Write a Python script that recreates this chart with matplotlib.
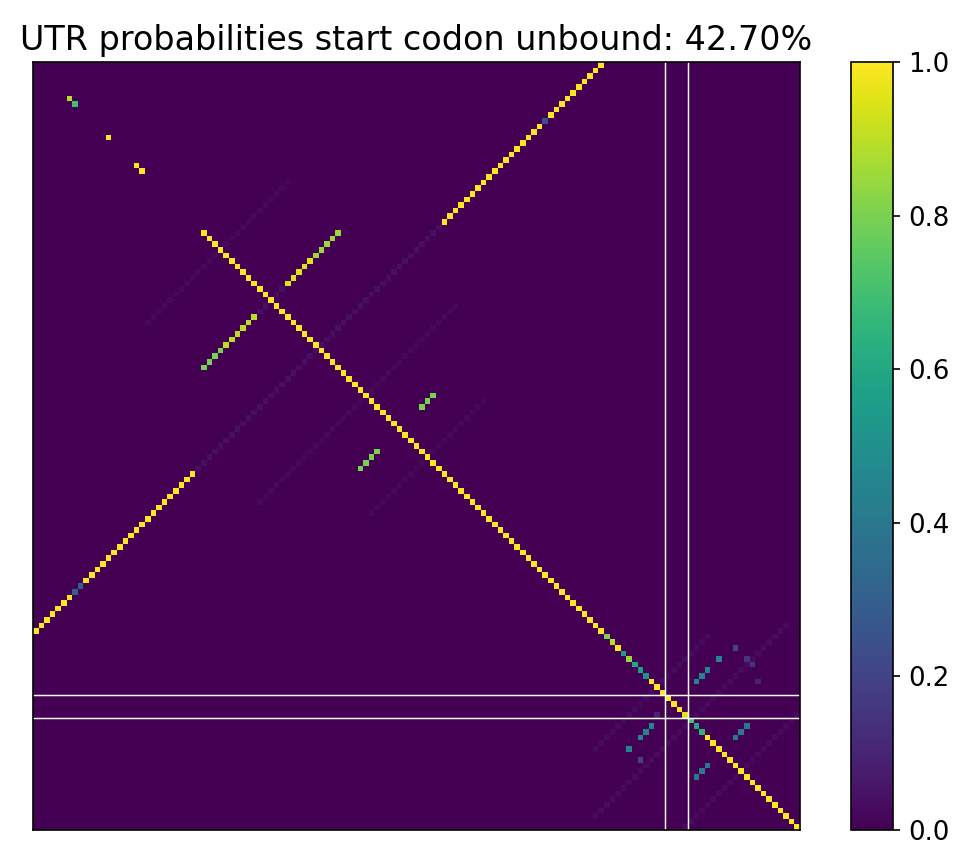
import numpy as np
import matplotlib.pyplot as plt

N = 137
title = "UTR probabilities start codon unbound: 42.70%"

# main diagonal (row == col): start index and values
diag_start = 30
diag_vals = [1.0] * 71 + [1.0, 0.8, 0.9, 1.0, 0.55, 0.85, 0.6, 0.55, 0.5, 1.0, 1.0,
                          1.0, 1.0, 1.0, 1.0, 0.95, 0.7, 0.6, 0.65] + [1.0] * 17
# isolated diagonal cells in the top-left
diag_extra = {6: 0.9, 7: 0.7, 13: 1.0, 18: 1.0, 19: 1.0}

# anti-diagonal segments: (row+col sum, first col, last col, value)
anti_segments = [
    (101, 0, 6, 1.0), (101, 7, 8, 0.3), (101, 9, 28, 1.0),
    (101, 73, 90, 1.0), (101, 91, 91, 0.25), (101, 92, 101, 1.0),
    (84, 30, 33, 0.8), (84, 34, 39, 0.9), (84, 45, 49, 0.95), (84, 50, 54, 0.85),
    (130, 69, 71, 0.8), (130, 58, 61, 0.8),
    (228, 118, 120, 0.45), (228, 108, 110, 0.45),
    (245, 125, 127, 0.4), (245, 118, 120, 0.4),
]
# faint background anti-diagonal segments
faint_segments = [
    (101, 29, 72, 0.04), (84, 40, 44, 0.04), (66, 20, 45, 0.02),
    (118, 40, 75, 0.02), (140, 60, 80, 0.02), (234, 100, 134, 0.03),
    (252, 116, 136, 0.03), (222, 100, 120, 0.03),
]
# scattered single cells: (row, col, value)
single_cells = [(106, 122, 0.45), (122, 106, 0.45), (104, 125, 0.2),
                (106, 127, 0.15), (107, 128, 0.15), (124, 108, 0.2),
                (110, 129, 0.1), (116, 111, 0.1)]

M = np.zeros((N, N))
for s, c0, c1, v in faint_segments + anti_segments:
    for c in range(c0, c1 + 1):
        r = s - c
        if 0 <= r < N and 0 <= c < N:
            M[r, c] = v
for r, c, v in single_cells:
    M[r, c] = v
for k, v in enumerate(diag_vals):
    i = diag_start + k
    if i < N:
        M[i, i] = v
for i, v in diag_extra.items():
    M[i, i] = v

fig = plt.figure(figsize=(973 / 150, 867 / 150), dpi=150)
ax = fig.add_axes([0.034, 0.043, 0.788, 0.885])
im = ax.imshow(M, cmap='viridis', vmin=0, vmax=1, aspect='auto', interpolation='nearest')
for p in (112.5, 116.5):
    ax.axvline(p, color='white', lw=0.7)
    ax.axhline(p, color='white', lw=0.7)
ax.set_xticks([])
ax.set_yticks([])
ax.set_title(title, fontsize=16)
cax = fig.add_axes([0.875, 0.043, 0.043, 0.885])
cb = fig.colorbar(im, cax=cax)
cb.ax.tick_params(labelsize=12.5)
fig.savefig('out.png')
